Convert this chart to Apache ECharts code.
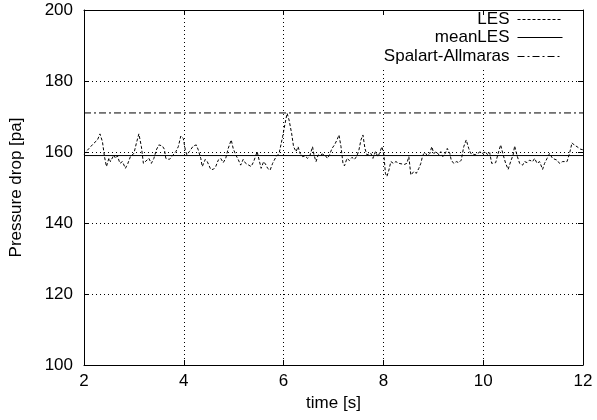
<!DOCTYPE html>
<html>
<head>
<meta charset="utf-8">
<script src="https://cdn.jsdelivr.net/npm/echarts@6/dist/echarts.min.js"></script>
<style>html,body{margin:0;padding:0;background:#fff}#c{width:597px;height:420px}</style>
</head>
<body>
<div id="c"></div>
<script>
// time [s]
var lesTime = [2.00,2.03,2.10,2.20,2.27,2.32,2.37,2.41,2.45,2.50,2.53,2.60,2.63,2.67,2.72,2.77,2.83,2.88,2.93,3.00,
3.05,3.10,3.15,3.19,3.23,3.30,3.35,3.40,3.45,3.50,3.57,3.61,3.64,3.71,3.77,3.84,3.89,3.94,3.99,4.03,
4.06,4.11,4.14,4.19,4.25,4.29,4.34,4.37,4.43,4.47,4.54,4.59,4.64,4.69,4.74,4.79,4.84,4.89,4.95,4.99,
5.04,5.09,5.14,5.19,5.24,5.29,5.35,5.40,5.47,5.51,5.55,5.60,5.65,5.68,5.73,5.78,5.85,5.91,5.98,6.03,
6.07,6.11,6.16,6.20,6.25,6.29,6.33,6.38,6.43,6.48,6.53,6.58,6.61,6.65,6.69,6.73,6.78,6.83,6.88,6.92,
6.97,7.02,7.07,7.11,7.15,7.19,7.22,7.27,7.32,7.37,7.42,7.47,7.51,7.55,7.59,7.63,7.67,7.71,7.75,7.79,
7.84,7.89,7.92,7.97,8.01,8.04,8.07,8.11,8.15,8.20,8.25,8.31,8.35,8.42,8.47,8.51,8.55,8.61,8.66,8.71,
8.75,8.79,8.84,8.88,8.93,8.97,9.01,9.06,9.11,9.15,9.19,9.24,9.28,9.33,9.36,9.41,9.46,9.51,9.56,9.61,
9.66,9.71,9.75,9.79,9.84,9.89,9.94,9.99,10.04,10.09,10.13,10.17,10.20,10.25,10.30,10.35,10.40,10.45,10.50,10.55,
10.60,10.63,10.68,10.73,10.79,10.83,10.88,10.93,10.99,11.03,11.08,11.13,11.19,11.23,11.28,11.33,11.39,11.43,11.48,11.53,
11.59,11.63,11.68,11.73,11.78,11.82,11.88,11.95,12.00];
// LES pressure drop [pa]
var lesValue = [159.4,159.6,161.0,162.5,163.4,165.1,162.9,158.7,155.9,158.3,157.3,159.2,158.2,158.9,156.8,157.3,155.4,156.8,158.7,159.6,
162.5,165.1,161.5,156.8,157.3,158.2,156.8,158.2,160.6,162.0,161.7,160.8,158.2,157.9,158.9,160.1,161.5,164.5,163.8,160.6,
159.2,160.1,160.6,161.7,162.0,160.6,158.2,155.9,157.9,157.3,155.1,155.1,155.9,157.7,158.2,157.0,158.2,161.0,163.4,161.0,
159.2,157.9,156.3,157.9,156.8,156.4,155.9,157.3,160.1,157.7,155.4,157.3,156.3,155.4,154.9,156.8,158.7,159.6,164.3,168.1,
170.9,169.0,165.3,161.5,160.1,161.5,159.6,158.7,158.9,158.2,159.1,161.5,159.1,157.3,159.1,158.7,159.4,159.1,158.2,159.2,
161.0,162.0,163.4,164.8,161.5,156.8,156.1,158.2,157.6,158.5,157.9,158.9,160.6,163.4,164.8,161.0,159.2,158.7,159.6,158.2,
160.1,158.7,159.6,161.5,159.2,154.0,153.1,154.9,157.3,156.8,157.3,156.8,156.3,156.5,156.8,158.7,153.5,154.5,154.0,155.4,
156.8,159.2,159.8,158.9,159.6,161.5,159.6,160.1,159.2,160.1,158.7,159.6,161.0,159.6,157.7,156.8,157.3,157.0,157.7,161.5,
163.4,161.0,159.6,160.1,159.2,159.6,160.1,159.6,160.1,159.2,159.8,156.8,157.3,157.0,159.6,162.0,159.2,156.8,155.1,157.3,
159.2,161.7,158.9,156.8,156.3,157.3,157.0,157.7,157.3,158.2,156.8,157.3,155.1,156.8,158.2,159.6,158.2,158.7,157.7,156.8,
157.3,156.8,157.3,159.6,162.6,162.0,161.5,160.8,160.6];
var meanTime = [2, 12];
var meanValue = [159.0, 159.0];
var saTime = [2, 12];
var saValue = [171.0, 171.0];
var xTicks = [2, 4, 6, 8, 10, 12];
var yTicks = [100, 120, 140, 160, 180, 200];
var seriesNames = ['LES', 'meanLES', 'Spalart-Allmaras'];

function pairs(t, v) { return t.map(function (x, i) { return [x, v[i]]; }); }

var FONT = 'Liberation Sans, Arial, Helvetica, sans-serif';
var FS = 17;
var chart = echarts.init(document.getElementById('c'), null, { renderer: 'canvas' });

var gridLine = { show: true, lineStyle: { color: '#000', type: [1, 3], width: 1 } };
function legendFor(name, top) {
  return {
    data: [name], right: 34, top: top, padding: 0, orient: 'horizontal', align: 'right',
    itemWidth: 45, itemHeight: 14, itemGap: 0, selectedMode: false,
    itemStyle: { opacity: 0 },
    lineStyle: { width: 1 },
    textStyle: { fontFamily: FONT, fontSize: FS, color: '#000', padding: [0, 3, 0, 0] }
  };
}

chart.setOption({
  animation: false,
  backgroundColor: '#fff',
  grid: { left: 83, right: 14, top: 10, bottom: 55 },
  legend: [legendFor(seriesNames[0], 11), legendFor(seriesNames[1], 29), legendFor(seriesNames[2], 48)],
  graphic: [{ type: 'rect', z: 1, shape: { x: 372, y: 16, width: 206, height: 51 }, style: { fill: '#fff' }, silent: true }],
  xAxis: [{
    type: 'value', min: xTicks[0], max: xTicks[xTicks.length - 1], interval: 2, position: 'bottom',
    name: 'time [s]', nameLocation: 'middle', nameGap: 29,
    nameTextStyle: { fontFamily: FONT, fontSize: FS, color: '#000' },
    axisLine: { show: true, onZero: false, lineStyle: { color: '#000', width: 1 } },
    axisTick: { show: true, inside: true, length: 5, lineStyle: { color: '#000' } },
    axisLabel: { fontFamily: FONT, fontSize: FS, color: '#000', margin: 8 },
    splitLine: gridLine
  }, {
    type: 'value', min: xTicks[0], max: xTicks[xTicks.length - 1], interval: 2, position: 'top',
    axisLine: { show: true, onZero: false, lineStyle: { color: '#000', width: 1 } },
    axisTick: { show: true, inside: true, length: 5, lineStyle: { color: '#000' } },
    axisLabel: { show: false }, splitLine: { show: false }
  }],
  yAxis: [{
    type: 'value', min: yTicks[0], max: yTicks[yTicks.length - 1], interval: 20, position: 'left',
    name: 'Pressure drop [pa]', nameLocation: 'middle', nameGap: 59, nameRotate: 90,
    nameTextStyle: { fontFamily: FONT, fontSize: FS, color: '#000' },
    axisLine: { show: true, onZero: false, lineStyle: { color: '#000', width: 1 } },
    axisTick: { show: true, inside: true, length: 5, lineStyle: { color: '#000' } },
    axisLabel: { fontFamily: FONT, fontSize: FS, color: '#000', margin: 11 },
    splitLine: gridLine
  }, {
    type: 'value', min: yTicks[0], max: yTicks[yTicks.length - 1], interval: 20, position: 'right',
    axisLine: { show: true, onZero: false, lineStyle: { color: '#000', width: 1 } },
    axisTick: { show: true, inside: true, length: 5, lineStyle: { color: '#000' } },
    axisLabel: { show: false }, splitLine: { show: false }
  }],
  series: [{
    name: seriesNames[0], type: 'line', data: pairs(lesTime, lesValue), showSymbol: false, symbol: 'none',
    lineStyle: { color: '#000', width: 1, type: [3, 2] }, itemStyle: { color: '#000' }, z: 3
  }, {
    name: seriesNames[1], type: 'line', data: pairs(meanTime, meanValue), showSymbol: false, symbol: 'none',
    lineStyle: { color: '#000', width: 1, type: 'solid' }, itemStyle: { color: '#000' }, z: 2
  }, {
    name: seriesNames[2], type: 'line', data: pairs(saTime, saValue), showSymbol: false, symbol: 'none',
    lineStyle: { color: '#000', width: 1, type: [7, 3, 2, 3] }, itemStyle: { color: '#000' }, z: 2
  }]
});
</script>
</body>
</html>
